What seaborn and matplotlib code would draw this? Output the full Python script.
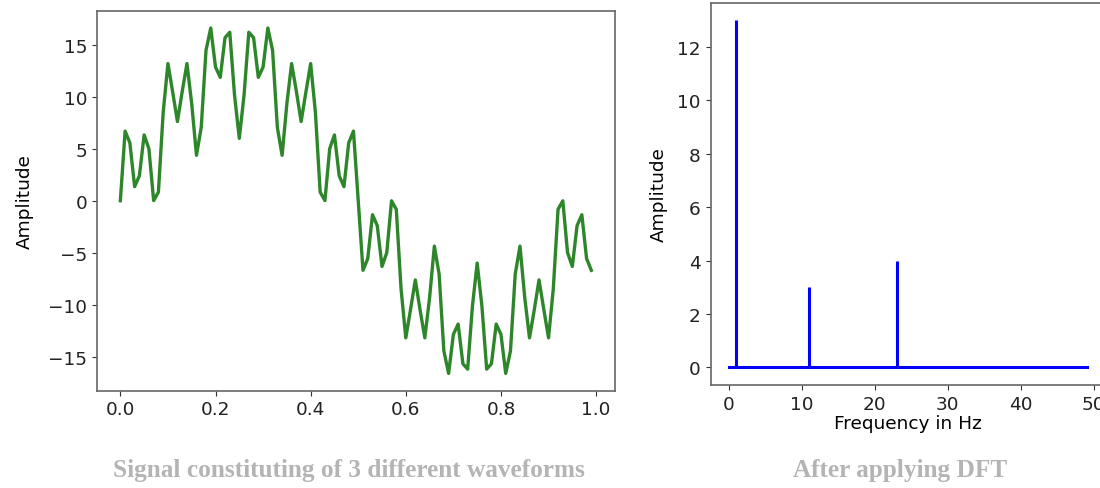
import numpy as np
import pandas as pd
import seaborn as sns
import matplotlib
matplotlib.use("Agg")
import matplotlib.pyplot as plt

signal = [0.00, 6.70, 5.57, 1.35, 2.40, 6.33, 5.00, 0.01, 0.83, 8.48,
          13.20, 10.45, 7.62, 10.51, 13.20, 9.33, 4.37, 7.06, 14.46, 16.62,
          12.86, 11.87, 15.69, 16.21, 10.16, 6.00, 10.16, 16.21, 15.69, 11.87,
          12.86, 16.62, 14.46, 7.06, 4.37, 9.33, 13.20, 10.51, 7.62, 10.45,
          13.20, 8.48, 0.83, 0.01, 5.00, 6.33, 2.40, 1.35, 5.57, 6.70,
          0.00, -6.70, -5.57, -1.35, -2.40, -6.33, -5.00, -0.01, -0.83, -8.48,
          -13.20, -10.45, -7.62, -10.51, -13.20, -9.33, -4.37, -7.06, -14.46, -16.62,
          -12.86, -11.87, -15.69, -16.21, -10.16, -6.00, -10.16, -16.21, -15.69, -11.87,
          -12.86, -16.62, -14.46, -7.06, -4.37, -9.33, -13.20, -10.51, -7.62, -10.45,
          -13.20, -8.48, -0.83, -0.01, -5.00, -6.33, -2.40, -1.35, -5.57, -6.70]
time = np.arange(len(signal)) / 100

# DFT amplitudes for bins 0..49 Hz
dft_amp = [0, 13, 0, 0, 0, 0, 0, 0, 0, 0,
           0, 3, 0, 0, 0, 0, 0, 0, 0, 0,
           0, 0, 0, 4, 0, 0, 0, 0, 0, 0,
           0, 0, 0, 0, 0, 0, 0, 0, 0, 0,
           0, 0, 0, 0, 0, 0, 0, 0, 0, 0]
freq = np.arange(len(dft_amp))

captions = ["Signal constituting of 3 different waveforms", "After applying DFT"]

df = pd.DataFrame({"time": time, "amp": signal})

plt.rcParams["font.size"] = 13.3
plt.rcParams["axes.edgecolor"] = "#666666"

fig = plt.figure(figsize=(11, 4.89), dpi=100)
ax1 = fig.add_axes([0.088, 0.199, 0.471, 0.777])
ax2 = fig.add_axes([0.646, 0.211, 0.358, 0.781])

sns.lineplot(data=df, x="time", y="amp", ax=ax1, color="#2e862a", linewidth=2.4)
ax1.set_xlabel("")
ax1.set_ylabel("Amplitude", labelpad=10)

stem = ax2.stem(freq, dft_amp, linefmt="b-", markerfmt=" ", basefmt="b-")
stem.stemlines.set_linewidth(2.2)
stem.baseline.set_linewidth(2.2)
ax2.set_xlabel("Frequency in Hz", labelpad=1)
ax2.set_ylabel("Amplitude", labelpad=7)
ax2.set_xticks([0, 10, 20, 30, 40, 50])

for ax in (ax1, ax2):
    ax.tick_params(color="#333333", labelcolor="#222222")
    for sp in ax.spines.values():
        sp.set_linewidth(1.2)

cap_kw = dict(ha="center", va="center", color="#b4b4b4", fontsize=18.2,
              fontweight="bold", family="Liberation Serif")
fig.text(0.317, 0.037, captions[0], **cap_kw)
fig.text(0.818, 0.037, captions[1], **cap_kw)

fig.savefig("out.png", dpi=100, facecolor="white")
